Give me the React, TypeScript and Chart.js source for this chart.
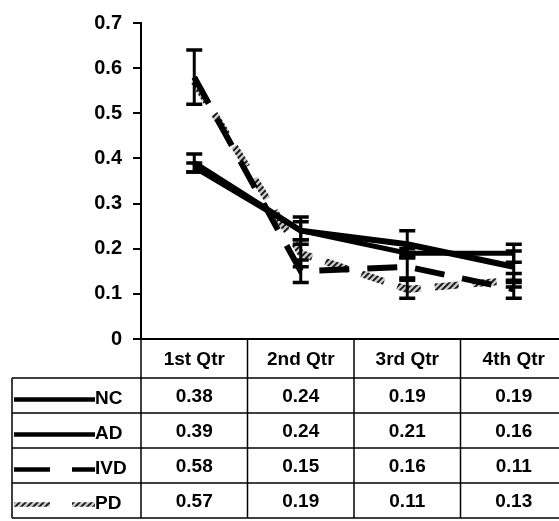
import React, { useEffect, useRef } from "react";
import { Chart, registerables } from "chart.js";

Chart.register(...registerables);

const categories = ["1st Qtr", "2nd Qtr", "3rd Qtr", "4th Qtr"];
const seriesNames = ["NC", "AD", "IVD", "PD"];
const ncValues = [0.38, 0.24, 0.19, 0.19];
const adValues = [0.39, 0.24, 0.21, 0.16];
const ivdValues = [0.58, 0.15, 0.16, 0.11];
const pdValues = [0.57, 0.19, 0.11, 0.13];
const ncErrors = [0.01, 0.02, 0.01, 0.02];
const adErrors = [0.02, 0.03, 0.03, 0.035];
const ivdErrors = [0.06, 0.025, 0.025, 0.02];
const pdErrors = [0, 0.03, 0.02, 0.015];
const yTicks = [0, 0.1, 0.2, 0.3, 0.4, 0.5, 0.6, 0.7];

const FONT = "'Liberation Sans', Arial, sans-serif";

function makeHatch(): CanvasPattern | string {
  const off = document.createElement("canvas");
  off.width = 6;
  off.height = 6;
  const c = off.getContext("2d");
  if (!c) return "#777";
  c.fillStyle = "#c8c8c8";
  c.fillRect(0, 0, 6, 6);
  c.strokeStyle = "#111";
  c.lineWidth = 1.8;
  c.beginPath();
  c.moveTo(0, 6);
  c.lineTo(6, 0);
  c.moveTo(-3, 3);
  c.lineTo(3, -3);
  c.moveTo(3, 9);
  c.lineTo(9, 3);
  c.stroke();
  const p = c.createPattern(off, "repeat");
  return p || "#777";
}

export default function App() {
  const ref = useRef<HTMLCanvasElement | null>(null);

  useEffect(() => {
    const canvas = ref.current;
    if (!canvas) return;
    const hatch = makeHatch();

    const errorsAll = [ncErrors, adErrors, ivdErrors, pdErrors];

    const errorBarPlugin = {
      id: "errorBars",
      afterDatasetsDraw(chart: any) {
        const ctx = chart.ctx;
        const xs = chart.scales.x;
        const ys = chart.scales.y;
        ctx.save();
        ctx.strokeStyle = "#000";
        chart.data.datasets.forEach((ds: any, di: number) => {
          const errs = errorsAll[di];
          ds.data.forEach((v: number, i: number) => {
            const e = errs[i];
            if (!e) return;
            const x = xs.getPixelForValue(i);
            const y1 = ys.getPixelForValue(v + e);
            const y2 = ys.getPixelForValue(v - e);
            ctx.lineWidth = 3;
            ctx.beginPath();
            ctx.moveTo(x, y1);
            ctx.lineTo(x, y2);
            ctx.stroke();
            ctx.lineWidth = 3.5;
            ctx.beginPath();
            ctx.moveTo(x - 8, y1);
            ctx.lineTo(x + 8, y1);
            ctx.moveTo(x - 8, y2);
            ctx.lineTo(x + 8, y2);
            ctx.stroke();
          });
        });
        ctx.restore();
      },
    };

    const tablePlugin = {
      id: "dataTable",
      afterDraw(chart: any) {
        const ctx = chart.ctx;
        const xs = chart.scales.x;
        const area = chart.chartArea;
        const n = categories.length;
        const colW = (area.right - area.left) / n;
        const top = area.bottom;
        const headerBottom = top + 39;
        const rowH = 35;
        const bottom = headerBottom + rowH * seriesNames.length;
        const tableLeft = 12;
        ctx.save();
        ctx.strokeStyle = "#000";
        ctx.lineWidth = 1.5;
        for (let k = 0; k <= n; k++) {
          const x = area.left + k * colW;
          ctx.beginPath();
          ctx.moveTo(x, top);
          ctx.lineTo(x, bottom);
          ctx.stroke();
        }
        ctx.beginPath();
        ctx.moveTo(tableLeft, headerBottom);
        ctx.lineTo(tableLeft, bottom);
        ctx.stroke();
        for (let r = 0; r <= seriesNames.length; r++) {
          const y = headerBottom + r * rowH;
          ctx.beginPath();
          ctx.moveTo(tableLeft, y);
          ctx.lineTo(area.right, y);
          ctx.stroke();
        }
        ctx.fillStyle = "#000";
        ctx.textBaseline = "middle";
        ctx.font = `bold 19px ${FONT}`;
        ctx.textAlign = "center";
        categories.forEach((c, i) => {
          ctx.fillText(c, xs.getPixelForValue(i), (top + headerBottom) / 2 + 1);
        });
        chart.data.datasets.forEach((ds: any, di: number) => {
          const cy = headerBottom + di * rowH + rowH / 2 + 1;
          ctx.textAlign = "center";
          ds.data.forEach((v: number, i: number) => {
            ctx.fillText(v.toFixed(2), xs.getPixelForValue(i), cy);
          });
          ctx.textAlign = "left";
          ctx.fillText(seriesNames[di], 95, cy + 2);
          const ly = cy + 3;
          ctx.save();
          ctx.strokeStyle = ds.borderColor;
          ctx.lineWidth = 4.5;
          ctx.beginPath();
          if (ds.borderDash && ds.borderDash.length) {
            ctx.moveTo(14, ly);
            ctx.lineTo(50, ly);
            ctx.moveTo(72, ly);
            ctx.lineTo(95, ly);
          } else {
            ctx.moveTo(14, ly);
            ctx.lineTo(95, ly);
          }
          ctx.stroke();
          ctx.restore();
        });
        ctx.restore();
      },
    };

    const chart = new Chart(canvas, {
      type: "line",
      data: {
        labels: categories,
        datasets: [
          { label: seriesNames[0], data: ncValues, borderColor: "#000", borderWidth: 5, pointRadius: 0, tension: 0 },
          { label: seriesNames[1], data: adValues, borderColor: "#000", borderWidth: 6, pointRadius: 0, tension: 0 },
          { label: seriesNames[2], data: ivdValues, borderColor: "#000", borderWidth: 6, borderDash: [30, 18], pointRadius: 0, tension: 0 },
          { label: seriesNames[3], data: pdValues, borderColor: hatch as any, borderWidth: 7, borderDash: [24, 14], pointRadius: 0, tension: 0 },
        ],
      },
      options: {
        responsive: false,
        animation: false,
        devicePixelRatio: 1,
        layout: { padding: { top: 16, left: 0, right: 0, bottom: 182 } },
        plugins: { legend: { display: false }, tooltip: { enabled: false } },
        scales: {
          x: {
            type: "category",
            offset: true,
            grid: { display: false, drawTicks: false },
            border: { display: true, color: "#000", width: 2 },
            ticks: { display: false },
            afterFit: (s: any) => {
              s.height = 0;
            },
          },
          y: {
            min: 0,
            max: 0.7,
            afterBuildTicks: (s: any) => {
              s.ticks = yTicks.map((v) => ({ value: v }));
            },
            ticks: {
              color: "#000",
              font: { family: FONT, size: 20, weight: "bold" },
              padding: 11,
              callback: (v: any) => (Number(v) === 0 ? "0" : Number(v).toFixed(1)),
            },
            grid: { drawOnChartArea: false, tickLength: 8, color: "#000", lineWidth: 2 },
            border: { display: true, color: "#000", width: 2 },
            afterFit: (s: any) => {
              s.width = 141;
            },
          },
        },
      },
      plugins: [errorBarPlugin, tablePlugin],
    });
    return () => chart.destroy();
  }, []);

  return (
    <div style={{ position: "fixed", left: 0, top: 0, width: 559, height: 521, overflow: "hidden", background: "#fff" }}>
      <canvas ref={ref} width={567} height={521} style={{ display: "block", width: 567, height: 521 }} />
    </div>
  );
}
